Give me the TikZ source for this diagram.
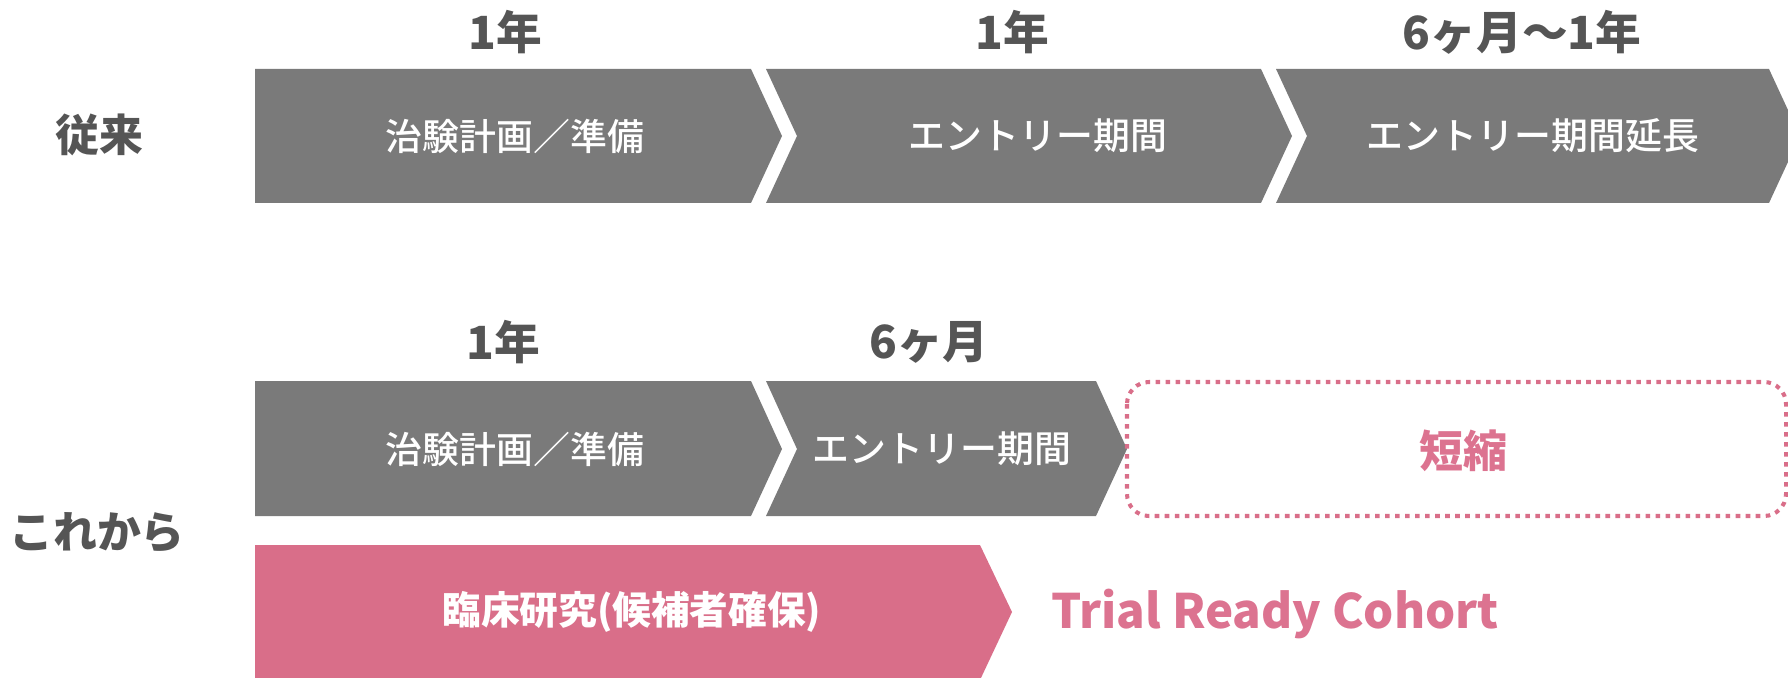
\documentclass[tikz,border=0pt]{standalone}
\usepackage{fontspec}
\setmainfont{Noto Sans CJK JP}
\newfontfamily\medfont{Noto Sans CJK JP Medium}
\definecolor{bargray}{HTML}{7A7A7A}
\definecolor{barpink}{HTML}{D96E89}
\definecolor{textpink}{HTML}{DC7390}
\definecolor{labelgray}{HTML}{555555}
\tikzset{
  graybar/.style={fill=bargray},
  pinkbar/.style={fill=barpink},
  bartext/.style={text=white, font=\fontsize{10.5}{12}\selectfont\medfont},
  period/.style={text=labelgray, font=\fontsize{13}{15}\selectfont\bfseries},
  rowlabel/.style={text=labelgray, font=\fontsize{12.5}{15}\selectfont\bfseries},
  pinktext/.style={text=textpink, font=\fontsize{12.5}{15}\selectfont\bfseries},
  shortbox/.style={draw=barpink, line width=1.15pt, dash pattern=on 1.3pt off 1.55pt, rounded corners=2.2mm},
}
\begin{document}
\begin{tikzpicture}[x=0.1mm, y=-0.1mm]
    \useasboundingbox (0,0) rectangle (1788,678);
    \clip (0,0) rectangle (1788,678);

    % Bars
    \fill[graybar] (255,69) -- (751,69) -- (782,136) -- (751,203) -- (255,203) -- cycle;
    \fill[graybar] (766,69) -- (1261,69) -- (1292,136) -- (1261,203) -- (766,203) -- (797,136) -- cycle;
    \fill[graybar] (1276,69) -- (1769,69) -- (1800,136) -- (1769,203) -- (1276,203) -- (1307,136) -- cycle;
    \fill[graybar] (255,381) -- (751,381) -- (782,449) -- (751,516) -- (255,516) -- cycle;
    \fill[graybar] (766,381) -- (1096,381) -- (1127,449) -- (1096,516) -- (766,516) -- (797,449) -- cycle;
    \fill[pinkbar] (255,545) -- (980,545) -- (1012,612) -- (980,680) -- (255,680) -- cycle;
    \draw[shortbox] (1127,382) rectangle (1786,516);

    % Nodes
    \node[rowlabel] (conv) at (99,135) {従来};
    \node[rowlabel] (future) at (97,533) {これから};

    \node[period] (y1) at (505,32) {1年};
    \node[period] (y2) at (1012,32) {1年};
    \node[period] (y3) at (1522,32) {6ヶ月～1年};
    \node[period] (y4) at (503,342) {1年};
    \node[period] (y5) at (929,342) {6ヶ月};

    \node[bartext] (plan1) at (515,136) {治験計画／準備};
    \node[bartext] (entry1) at (1038,136) {エントリー期間};
    \node[bartext] (ext1) at (1533,136) {エントリー期間延長};
    \node[bartext] (plan2) at (515,449) {治験計画／準備};
    \node[bartext] (entry2) at (942,449) {エントリー期間};
    \node[pinktext] (short) at (1463,451) {短縮};
    \node[bartext, font=\fontsize{11}{12}\selectfont\bfseries] (study) at (632,612) {臨床研究(候補者確保)};
    \node[pinktext, font=\fontsize{13.5}{15}\selectfont\bfseries] (trc) at (1275,614) {Trial Ready Cohort};

\end{tikzpicture}
\end{document}
